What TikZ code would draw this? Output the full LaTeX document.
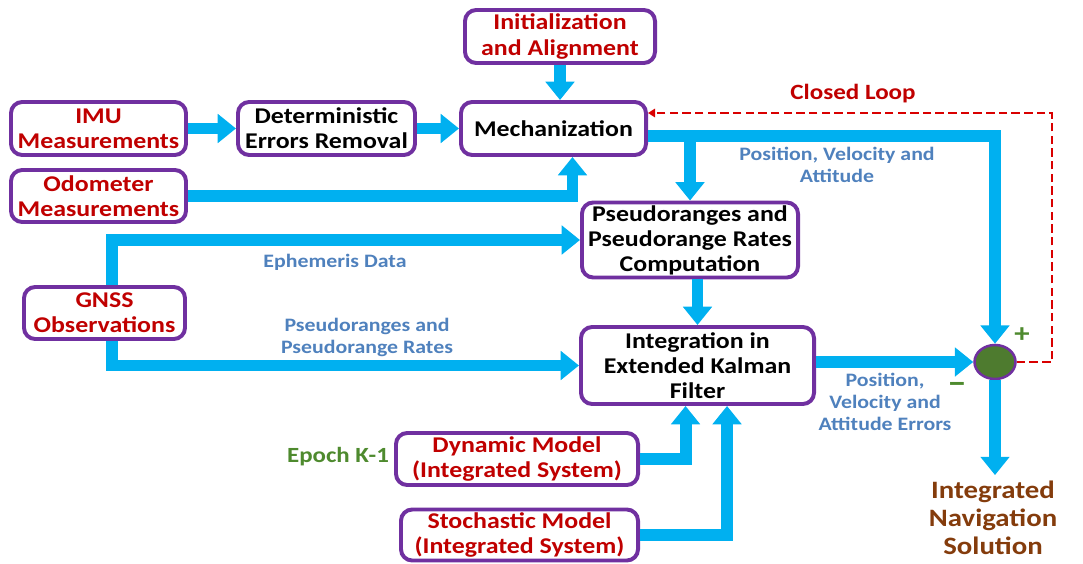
\documentclass[tikz,border=0pt]{standalone}
\usepackage{fontspec}
\setmainfont{Carlito}[FakeStretch=1.15]
\usepackage{tikz}
\usetikzlibrary{arrows.meta, shapes.geometric}
\definecolor{flowcyan}{HTML}{00B0F0}
\definecolor{boxpurple}{HTML}{7030A0}
\definecolor{darkred}{HTML}{C00000}
\definecolor{labelblue}{HTML}{4F81BD}
\definecolor{epochgreen}{HTML}{4E8A2E}
\definecolor{sumgreen}{HTML}{4E7B2F}
\definecolor{navbrown}{HTML}{843C0C}

\begin{document}
\begin{tikzpicture}[x=0.025cm, y=-0.025cm,
    block/.style={draw=boxpurple, line width=2.8pt, rounded corners=8pt, fill=white,
        align=center, inner sep=2pt, font=\bfseries\fontsize{16}{17.8}\selectfont},
    source/.style={block, text=darkred},
    flow/.style={draw=flowcyan, line width=8.5pt, -{Triangle[width=20pt,length=13pt]}},
    info/.style={text=labelblue, align=center, font=\bfseries\fontsize{13.5}{15.6}\selectfont},
    loopline/.style={draw=red!85!black, line width=1.4pt, dash pattern=on 6pt off 3pt,
        -{Triangle[width=6pt,length=5pt]}}]
    \useasboundingbox (0,0) rectangle (1083,564);

    % Boxes
    \node[source, minimum width=4.75cm, minimum height=1.325cm] (init) at (560,36.5) {Initialization\\and Alignment};
    \node[source, minimum width=4.375cm, minimum height=1.325cm] (imu) at (98.5,128.5) {IMU\\Measurements};
    \node[block, minimum width=4.425cm, minimum height=1.325cm] (det) at (326.5,128.5) {Deterministic\\Errors Removal};
    \node[block, minimum width=4.625cm, minimum height=1.325cm] (mech) at (553.5,128.5) {Mechanization};
    \node[source, minimum width=4.375cm, minimum height=1.3cm] (odo) at (98.5,196) {Odometer\\Measurements};
    \node[block, minimum width=5.4cm, minimum height=1.8cm] (pseudo) at (690,240) {Pseudoranges and\\Pseudorange Rates\\Computation};
    \node[source, minimum width=4.025cm, minimum height=1.3cm] (gnss) at (104.5,313) {GNSS\\Observations};
    \node[block, minimum width=5.825cm, minimum height=1.925cm] (ekf) at (697.5,365.5) {Integration in\\Extended Kalman\\Filter};
    \node[source, minimum width=6.05cm, minimum height=1.3cm] (dyn) at (517,459) {Dynamic Model\\(Integrated System)};
    \node[source, minimum width=5.925cm, minimum height=1.275cm] (stoch) at (519.5,535) {Stochastic Model\\(Integrated System)};
    \node[ellipse, draw=boxpurple, line width=1.8pt, fill=sumgreen,
        minimum width=1.025cm, minimum height=0.85cm] (sum) at (995,362) {};
    \node[text=navbrown, align=center, inner sep=4pt,
        font=\bfseries\fontsize{17.8}{20}\selectfont] (nav) at (993,518) {Integrated\\Navigation\\Solution};

    % Labels
    \node[text=darkred, font=\bfseries\fontsize{15.5}{17.8}\selectfont] (closed) at (853,94) {Closed Loop};
    \node[info] (pva) at (837,165) {Position, Velocity and\\Attitude};
    \node[info] (eph) at (335,262) {Ephemeris Data};
    \node[info] (prr) at (367,337) {Pseudoranges and\\Pseudorange Rates};
    \node[info] (err) at (885,402) {Position,\\Velocity and\\Attitude Errors};
    \node[text=epochgreen, font=\bfseries\fontsize{15.4}{17}\selectfont] (epoch) at (338,457) {Epoch K-1};
    \node[text=epochgreen, font=\bfseries\fontsize{19}{20}\selectfont] (plus) at (1022,335) {+};
    \node[text=epochgreen, font=\bfseries\fontsize{24}{24}\selectfont] (minus) at (957,388) {–};

    % Connectors
    \coordinate (mechout) at ([yshift=-5.5pt]mech.east);
    \coordinate (loop) at (1052,113);
    \draw[flow] (imu.east) -- (det.west);
    \draw[flow] (det.east) -- (mech.west);
    \draw[flow] (init.south) -- (init.south |- mech.north);
    \draw[flow] (odo.east) -| ([xshift=13.5pt]mech.south);
    \draw[flow] (mechout) -| (sum.north);
    \draw[flow] (pseudo.north |- mechout) -- (pseudo.north);
    \draw[flow] ([xshift=5pt]gnss.north) |- (pseudo.west);
    \draw[flow] ([xshift=5pt]gnss.south) |- (ekf.west);
    \draw[flow] (ekf.north |- pseudo.south) -- (ekf.north);
    \draw[flow] (ekf.east |- sum.west) -- (sum.west);
    \draw[flow] (dyn.east) -| ([xshift=-8.5pt]ekf.south);
    \draw[flow] (stoch.east) -| ([xshift=21pt]ekf.south);
    \draw[flow] (sum.south) -- (sum.south |- nav.north);
    \draw[loopline] (sum.east) -| (loop) -- (mech.east |- loop);
\end{tikzpicture}
\end{document}
